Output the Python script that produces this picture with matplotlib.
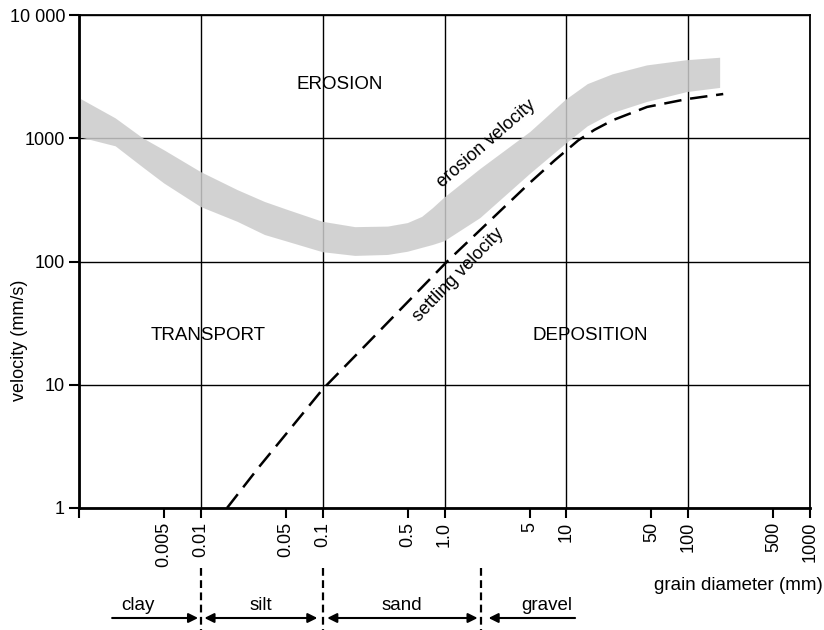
import matplotlib
matplotlib.use("Agg")
import matplotlib.pyplot as plt
import numpy as np

plt.rcParams['font.family'] = ['Liberation Sans', 'DejaVu Sans']

# ---- data ----
band_d = [0.001, 0.002, 0.00335, 0.005, 0.01, 0.02, 0.0336, 0.05, 0.1, 0.185, 0.344,
          0.5, 0.655, 0.8, 1.0, 1.97, 5.06, 9.9, 15, 24, 46, 98, 183]
band_upper = [2120, 1450, 1000, 800, 532, 380, 304, 265, 210, 190, 192,
              205, 230, 270, 330, 563, 1124, 2050, 2750, 3300, 3900, 4300, 4500]
band_lower = [1023, 860, 580, 430, 277, 210, 164, 146, 119, 111, 113,
              120, 129, 136, 146, 225, 515, 900, 1250, 1600, 1970, 2370, 2560]

settle_d = [0.0164, 0.03, 0.05, 0.1, 0.3, 1.05, 5.0, 8.0, 12.5, 17, 24, 46, 98, 194]
settle_v = [1.0, 2.15, 3.98, 9.2, 28, 100, 434, 660, 960, 1170, 1400, 1795, 2080, 2285]

x_major = [0.001, 0.01, 0.1, 1, 10, 100, 1000]
x_major_labels = ["", "0.01", "0.1", "1.0", "10", "100", "1000"]
x_minor = [0.005, 0.05, 0.5, 5, 50, 500]
x_minor_labels = ["0.005", "0.05", "0.5", "5", "50", "500"]
y_ticks = [1, 10, 100, 1000, 10000]
y_labels = ["1", "10", "100", "1000", "10 000"]

class_bounds = [0.01, 0.1, 2.0]
class_names = ["clay", "silt", "sand", "gravel"]
class_label_x = [0.00305, 0.0312, 0.45, 6.95]

# ---- figure ----
fig = plt.figure(figsize=(8.24, 6.3), dpi=100)
ax = fig.add_axes([79/824, 1-508/630, (810-79)/824, (508-15)/630])
ax.set_xscale('log')
ax.set_yscale('log')
ax.set_xlim(0.001, 1000)
ax.set_ylim(1, 10000)

ax.grid(True, which='major', color='black', lw=1.0, zorder=1)
ax.set_axisbelow(True)

ax.fill_between(band_d, band_lower, band_upper, facecolor='#cbcbcb', edgecolor='none',
                alpha=0.85, zorder=2)
ax.plot(settle_d, settle_v, color='black', lw=1.8, dashes=(7, 3.5), zorder=3)

ax.set_xticks(x_major)
ax.set_xticklabels(x_major_labels, rotation=90)
ax.set_xticks(x_minor, minor=True)
ax.set_xticklabels(x_minor_labels, minor=True, rotation=90)
ax.set_yticks(y_ticks)
ax.set_yticklabels(y_labels)
ax.set_yticks([], minor=True)
ax.tick_params(axis='both', which='both', direction='out', length=7, width=1.5,
               labelsize=13, pad=3, color='black')

for s in ['left', 'bottom']:
    ax.spines[s].set_linewidth(2.0)
for s in ['top', 'right']:
    ax.spines[s].set_linewidth(1.3)

# region labels
ax.text(0.139, 2755, "EROSION", fontsize=13.5, ha='center', va='center', zorder=4)
ax.text(0.0115, 25, "TRANSPORT", fontsize=13.5, ha='center', va='center', zorder=4)
ax.text(15.7, 25.3, "DEPOSITION", fontsize=13.5, ha='center', va='center', zorder=4)
ax.text(2.2, 900, "erosion velocity", fontsize=13, ha='center', va='center',
        rotation=41, rotation_mode='anchor', zorder=4)
ax.text(1.3, 78, "settling velocity", fontsize=13, ha='center', va='center',
        rotation=46, rotation_mode='anchor', zorder=4)

fig.text(20/824, 1-340/630, "velocity (mm/s)", rotation=90, fontsize=13,
         ha='center', va='center')

tr = ax.get_xaxis_transform()
ax.text(257, (508-585)/493, "grain diameter (mm)", transform=tr, fontsize=13.5,
        ha='center', va='center', clip_on=False)

# grain class separators
for b in class_bounds:
    ax.plot([b, b], [(508-568)/493, (508-632)/493], transform=tr, color='black',
            lw=1.6, dashes=(3.5, 2), clip_on=False)

for name, xc in zip(class_names, class_label_x):
    ax.text(xc, (508-610)/493, name, transform=tr, fontsize=13.5, ha='center',
            va='baseline', clip_on=False)

ya = (508-618)/493
arrows = [((0.00187, ya), (0.0095, ya), '-|>'),
          ((0.0107, ya), (0.0905, ya), '<|-|>'),
          ((0.109, ya), (1.87, ya), '<|-|>'),
          ((11.8, ya), (2.3, ya), '-|>')]
for start, end, style in arrows:
    ax.annotate("", xy=end, xycoords=tr, xytext=start, textcoords=tr,
                arrowprops=dict(arrowstyle=style, color='black', lw=1.5,
                                shrinkA=0, shrinkB=0, mutation_scale=14),
                annotation_clip=False)

fig.savefig("out.png", dpi=100)
